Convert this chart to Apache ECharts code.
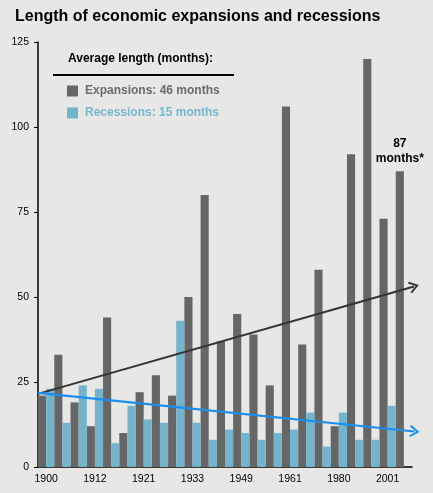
<!DOCTYPE html>
<html>
<head>
<meta charset="utf-8">
<script src="https://cdn.jsdelivr.net/npm/echarts@6/dist/echarts.min.js"></script>
<style>
html,body{margin:0;padding:0;background:#e7e7e5;}
#c{width:433px;height:493px;}
</style>
</head>
<body>
<div id="c"></div>
<script>
// Trough years starting each expansion
const years = ['1900','1904','1908','1912','1914','1919','1921','1924','1927','1933','1938','1945','1949','1954','1958','1961','1970','1975','1980','1982','1991','2001','2009'];
const expansions = [21,33,19,12,44,10,22,27,21,50,80,37,45,39,24,106,36,58,12,92,120,73,87];
const recessions = [23,13,24,23,7,18,14,13,43,13,8,11,10,8,10,11,16,6,16,8,8,18,null];
const shownYears = ['1900','1912','1921','1933','1949','1961','1980','2001'];
const avgExpansion = 46;
const avgRecession = 15;
const lastLabel = ['87', 'months*'];
// Trend lines: [x in category units, months]
const expTrend = [[0, 21.5], [23.07, 53.1]];
const recTrend = [[0, 21.8], [23.1, 10.45]];

const DARK = '#666666';
const LIGHT = '#73b3cc';
const FONT = '"Liberation Sans", Arial, sans-serif';
const chevron = 'path://M10,0 L20,14 L17.6,16 L10,5.2 L2.4,16 L0,14 Z';

const expData = expansions.map((v, i) => i === expansions.length - 1 ? {
  value: v,
  label: {
    show: true, position: 'top', distance: 5,
    formatter: lastLabel.join('\n'),
    color: '#000', fontWeight: 'bold', fontSize: 12, lineHeight: 15, fontFamily: FONT
  }
} : v);

const chart = echarts.init(document.getElementById('c'));
chart.setOption({
  backgroundColor: '#e7e7e5',
  animation: false,
  title: {
    text: 'Length of economic expansions and recessions',
    left: 10, top: 4,
    textStyle: {fontFamily: FONT, fontSize: 16, fontWeight: 'bold', color: '#000'}
  },
  legend: {
    orient: 'vertical', left: 67, top: 85, padding: 0,
    itemWidth: 11, itemHeight: 11, itemGap: 10,
    icon: 'rect',
    data: [
      {name: 'Expansions', textStyle: {color: '#6a6a6a'}},
      {name: 'Recessions', textStyle: {color: '#76b8d2'}}
    ],
    formatter: n => n + ': ' + (n === 'Expansions' ? avgExpansion : avgRecession) + ' months',
    textStyle: {fontFamily: FONT, fontSize: 12, fontWeight: 'bold', padding: [0, 0, 0, 2]}
  },
  graphic: [
    {type: 'text', left: 68, top: 53, style: {text: 'Average length (months):', fontFamily: FONT, fontSize: 12, fontWeight: 'bold', fill: '#000'}},
    {type: 'line', shape: {x1: 53, y1: 75, x2: 234, y2: 75}, style: {stroke: '#000', lineWidth: 2}}
  ],
  grid: [
    {left: 38, right: 21, top: 42, bottom: 26},
    {left: 38, right: 12, top: 42, bottom: 26}
  ],
  xAxis: [
    {
      type: 'category', data: years, gridIndex: 0,
      axisLine: {lineStyle: {color: '#000', width: 1.5}},
      axisTick: {show: false},
      axisLabel: {
        interval: 0, margin: 7,
        formatter: v => shownYears.includes(v) ? v : '',
        color: '#000', fontSize: 10.5, fontFamily: FONT
      }
    },
    {
      type: 'value', gridIndex: 1, min: 0, max: 23.5, show: false
    }
  ],
  yAxis: [
    {
      type: 'value', min: 0, max: 125, interval: 25, gridIndex: 0,
      splitLine: {show: false},
      axisLine: {show: true, lineStyle: {color: '#000', width: 1.5}},
      axisTick: {show: true, length: 4, lineStyle: {color: '#000'}},
      axisLabel: {color: '#000', fontSize: 10.5, fontFamily: FONT, margin: 9}
    },
    {type: 'value', min: 0, max: 125, gridIndex: 1, show: false}
  ],
  series: [
    {
      name: 'Expansions', type: 'bar', data: expData,
      barGap: '0%', barCategoryGap: '0%',
      itemStyle: {color: DARK}
    },
    {
      name: 'Recessions', type: 'bar', data: recessions,
      barGap: '0%', barCategoryGap: '0%',
      itemStyle: {color: LIGHT}
    },
    {
      name: 'expTrend', type: 'line', xAxisIndex: 1, yAxisIndex: 1, data: [], clip: false,
      markLine: {
        silent: true, animation: false,
        symbol: ['none', chevron], symbolSize: [12, 10],
        label: {show: false},
        lineStyle: {color: '#333333', width: 2, type: 'solid'},
        data: [[{coord: expTrend[0]}, {coord: expTrend[1]}]]
      }
    },
    {
      name: 'recTrend', type: 'line', xAxisIndex: 1, yAxisIndex: 1, data: [], clip: false,
      markLine: {
        silent: true, animation: false,
        symbol: ['none', chevron], symbolSize: [12, 10],
        label: {show: false},
        lineStyle: {color: '#1a8ff0', width: 2.2, type: 'solid'},
        data: [[{coord: recTrend[0]}, {coord: recTrend[1]}]]
      }
    }
  ]
});
</script>
</body>
</html>
